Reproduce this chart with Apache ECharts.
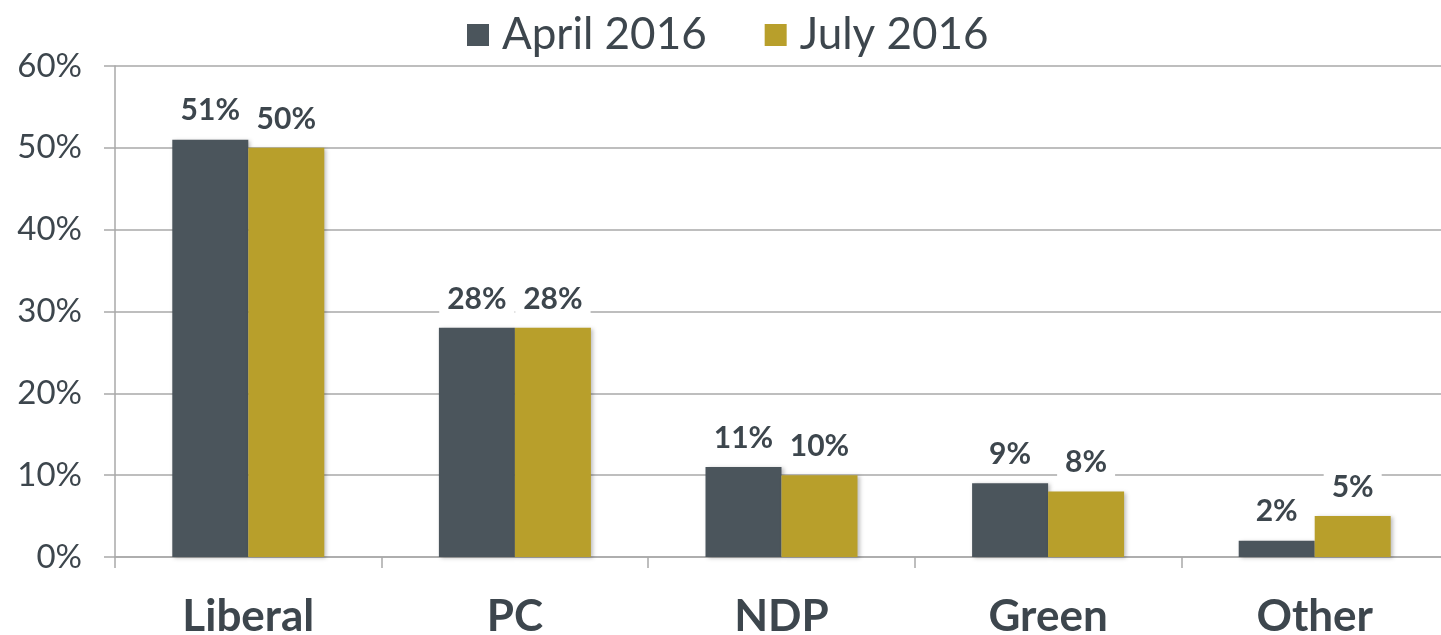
<!DOCTYPE html>
<html>
<head>
<meta charset="utf-8">
<script src="https://cdn.jsdelivr.net/npm/echarts@6/dist/echarts.min.js"></script>
<style>
  html, body { margin: 0; padding: 0; background: #fff; }
  #chart { width: 1441px; height: 635px; }
</style>
</head>
<body>
<div id="chart"></div>
<script>
const categories = ["Liberal", "PC", "NDP", "Green", "Other"];
const april2016 = [51, 28, 11, 9, 2];
const july2016 = [50, 28, 10, 8, 5];
const yTicks = { min: 0, max: 60, interval: 10 };

const textColor = "#3d464d";
const gridColor = "#a9a9a9";
const font = "Lato, 'DejaVu Sans', sans-serif";

const chart = echarts.init(document.getElementById("chart"));

function barSeries(name, data, color) {
    return {
        name: name,
        type: "bar",
        data: data,
        barWidth: 76,
        barGap: "0%",
        itemStyle: {
            color: color,
            shadowColor: "rgba(0,0,0,0.25)",
            shadowBlur: 4,
            shadowOffsetX: 2,
            shadowOffsetY: 1
        },
        label: {
            show: true,
            position: "top",
            distance: 12,
            formatter: "{c}%",
            fontFamily: font,
            fontWeight: "bold",
            fontSize: 30,
            color: textColor,
            backgroundColor: "#fff",
            padding: [2, 8]
        }
    };
}

const option = {
    animation: false,
    textStyle: { fontFamily: font },
    legend: {
        top: 8,
        left: 462,
        itemWidth: 22,
        itemHeight: 22,
        itemGap: 58,
        icon: "rect",
        textStyle: { fontSize: 44, color: textColor, fontFamily: font, padding: [0, 0, 0, 8] },
        data: ["April 2016", "July 2016"]
    },
    grid: {
        left: 115,
        right: -7,
        top: 66,
        bottom: 78,
        containLabel: false,
        outerBoundsMode: "none"
    },
    xAxis: {
        type: "category",
        data: categories,
        axisLine: { lineStyle: { color: gridColor, width: 1.5 } },
        axisTick: { show: true, length: 11, lineStyle: { color: gridColor, width: 1.5 } },
        axisLabel: {
            margin: 38,
            fontSize: 44,
            fontWeight: "bold",
            color: textColor,
            fontFamily: font
        }
    },
    yAxis: {
        type: "value",
        min: yTicks.min,
        max: yTicks.max,
        interval: yTicks.interval,
        axisLine: { show: true, lineStyle: { color: gridColor, width: 1.5 } },
        axisTick: { show: true, length: 11, lineStyle: { color: gridColor, width: 1.5 } },
        splitLine: { lineStyle: { color: gridColor, width: 1.5 } },
        axisLabel: {
            formatter: "{value}%",
            margin: 33,
            fontSize: 33,
            color: textColor,
            fontFamily: font
        }
    },
    series: [
        barSeries("April 2016", april2016, "#4b555c"),
        barSeries("July 2016", july2016, "#b89f2b")
    ]
};

chart.setOption(option);
</script>
</body>
</html>
